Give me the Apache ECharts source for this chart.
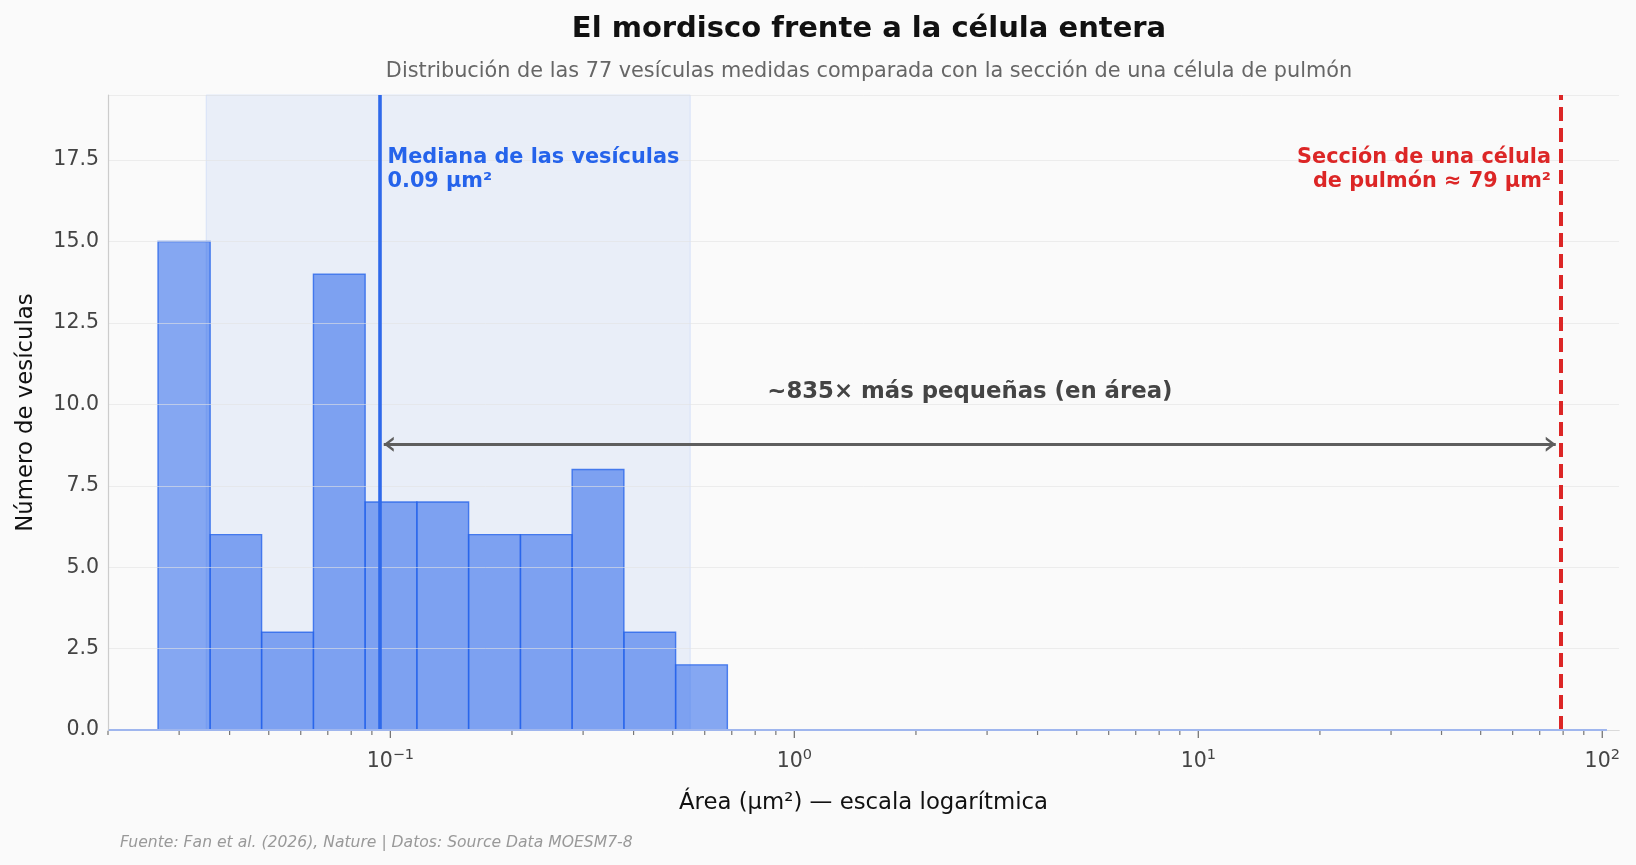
<!DOCTYPE html>
<html>
<head>
<meta charset="utf-8">
<script src="https://cdn.jsdelivr.net/npm/echarts@6/dist/echarts.min.js"></script>
<style>
  html, body {margin: 0; padding: 0; background: #fafafa;}
  #contain {width: 1636px; height: 865px;}
</style>
</head>
<body>
<div id="contain"></div>
<script>
// bin edges (µm², log-spaced) and counts
var binEdges = [0.0266, 0.0358, 0.0480, 0.0645, 0.0866, 0.1163, 0.1562, 0.2099, 0.2818, 0.3785, 0.5083, 0.6827];
var binCounts = [15, 6, 3, 14, 7, 7, 6, 6, 8, 3, 2];

var medianArea = 0.094;
var cellArea = 79;
var bandRange = [0.035, 0.5525];
var arrowEnds = [0.0963, 76.7];
var arrowY = 8.775;
var ratioLabelPos = [2.72, 10.37];
var labelY = 17.2;

var majorTicks = [0.1, 1, 10, 100];
var minorTicks = [0.02, 0.03, 0.04, 0.05, 0.06, 0.07, 0.08, 0.09,
    0.2, 0.3, 0.4, 0.5, 0.6, 0.7, 0.8, 0.9,
    2, 3, 4, 5, 6, 7, 8, 9,
    20, 30, 40, 50, 60, 70, 80, 90];

var FONT = 'DejaVu Sans';
var CHEVRON = 'path://M0,10 L5,0 L10,10 L8,10 L5,4 L2,10 Z';

var histData = [];
for (var i = 0; i < binCounts.length; i++) {
    histData.push([binEdges[i], binEdges[i + 1], binCounts[i]]);
}

var myChart = echarts.init(document.getElementById('contain'));

var option = {
    animation: false,
    backgroundColor: '#fafafa',
    textStyle: {fontFamily: FONT},
    title: [
        {
            text: 'El mordisco frente a la célula entera',
            left: 864, top: 10, textAlign: 'center',
            textStyle: {fontFamily: FONT, fontSize: 29, fontWeight: 'bold', color: '#111'}
        },
        {
            text: 'Distribución de las 77 vesículas medidas comparada con la sección de una célula de pulmón',
            left: 864, top: 56, textAlign: 'center',
            textStyle: {fontFamily: FONT, fontSize: 20.8, fontWeight: 'normal', color: '#666'}
        },
        {
            text: 'Fuente: Fan et al. (2026), Nature | Datos: Source Data MOESM7-8',
            left: 115, top: 830,
            textStyle: {fontFamily: FONT, fontSize: 15.6, fontStyle: 'italic', fontWeight: 'normal', color: '#999'}
        }
    ],
    grid: {left: 108, right: 17, top: 95, bottom: 135, containLabel: false},
    xAxis: {
        type: 'log',
        logBase: 10,
        min: 0.02,
        max: 110,
        name: 'Área (µm²) — escala logarítmica',
        nameLocation: 'middle',
        nameGap: 62,
        nameTextStyle: {fontFamily: FONT, fontSize: 22.8, color: '#111'},
        axisLine: {show: true, lineStyle: {color: '#cccccc', width: 1.2}},
        axisTick: {show: false},
        splitLine: {show: false},
        minorTick: {show: false},
        axisLabel: {
            margin: 18,
            showMinLabel: false,
            showMaxLabel: false,
            formatter: function (v) {
                var l = Math.log(v) / Math.LN10;
                var e = Math.round(l);
                if (Math.abs(l - e) > 1e-6) return '';
                return '{b|10}{s|' + (e < 0 ? '−' + (-e) : e) + '}';
            },
            rich: {
                b: {fontFamily: FONT, fontSize: 20.5, color: '#444', verticalAlign: 'bottom'},
                s: {fontFamily: FONT, fontSize: 14.5, color: '#444', verticalAlign: 'bottom', padding: [0, 0, 9, 0]}
            }
        }
    },
    yAxis: {
        type: 'value',
        min: 0,
        max: 19.5,
        interval: 2.5,
        z: 5,
        name: 'Número de vesículas',
        nameLocation: 'middle',
        nameGap: 70,
        nameTextStyle: {fontFamily: FONT, fontSize: 22.8, color: '#111'},
        axisLine: {show: true, lineStyle: {color: '#cccccc', width: 1.2}},
        axisTick: {show: false},
        axisLabel: {
            margin: 9,
            fontFamily: FONT, fontSize: 20.5, color: '#444',
            formatter: function (v) {
                if (v > 18) return '';
                return v.toFixed(1);
            }
        },
        splitLine: {show: true, lineStyle: {color: 'rgba(226,226,226,0.6)', width: 1}}
    },
    series: [
        {
            // shaded range
            name: 'rango',
            type: 'line',
            data: [],
            z: 1,
            markArea: {
                silent: true,
                precision: 6,
                itemStyle: {color: 'rgba(37,99,235,0.08)', borderColor: 'rgba(37,99,235,0.12)', borderWidth: 1},
                data: [[{xAxis: bandRange[0]}, {xAxis: bandRange[1]}]]
            }
        },
        {
            name: 'vesículas',
            type: 'custom',
            z: 2,
            clip: false,
            data: histData,
            encode: {x: [0, 1], y: 2},
            renderItem: function (params, api) {
                var p0 = api.coord([api.value(0), api.value(2)]);
                var p1 = api.coord([api.value(1), 0]);
                return {
                    type: 'rect',
                    shape: {x: p0[0], y: p0[1], width: p1[0] - p0[0], height: p1[1] - p0[1]},
                    style: {fill: 'rgba(37,99,235,0.55)', stroke: 'rgba(37,99,235,0.78)', lineWidth: 1.4}
                };
            }
        },
        {
            name: 'líneas',
            type: 'line',
            data: [],
            z: 6,
            markLine: {
                silent: true,
                precision: 6,
                symbol: 'none',
                label: {show: false},
                data: [
                    {xAxis: medianArea, lineStyle: {color: '#2f69ea', width: 3.6, type: 'solid'}},
                    {xAxis: cellArea, lineStyle: {color: '#dc2626', width: 4, type: [14, 7]}},
                    [{coord: [0.02, 0]}, {coord: [102.7, 0]}]
                ],
                lineStyle: {color: '#9fb6ee', width: 2, type: 'solid'}
            }
        },
        {
            name: 'flecha',
            type: 'line',
            data: [],
            z: 7,
            markLine: {
                silent: true,
                precision: 6,
                symbol: [CHEVRON, CHEVRON],
                symbolSize: [15, 10],
                symbolOffset: [[0, 5], [0, 5]],
                label: {show: false},
                lineStyle: {color: '#5e5e5e', width: 2.8, type: 'solid'},
                data: [[{coord: [arrowEnds[0], arrowY]}, {coord: [arrowEnds[1], arrowY]}]]
            },
            markPoint: {
                silent: true,
                precision: 6,
                symbol: 'circle',
                symbolSize: 0,
                data: [
                    {
                        coord: [medianArea, labelY],
                        label: {
                            show: true, position: 'right', distance: 8,
                            formatter: 'Mediana de las vesículas\n0.09 µm²',
                            fontFamily: FONT, fontSize: 20.8, fontWeight: 'bold', lineHeight: 24, color: '#2563eb'
                        }
                    },
                    {
                        coord: [cellArea, labelY],
                        label: {
                            show: true, position: 'left', distance: 10,
                            formatter: 'Sección de una célula\nde pulmón ≈ 79 µm²',
                            fontFamily: FONT, fontSize: 20.8, fontWeight: 'bold', lineHeight: 24, color: '#dc2626'
                        }
                    },
                    {
                        coord: ratioLabelPos,
                        label: {
                            show: true, position: 'inside',
                            formatter: '~835× más pequeñas (en área)',
                            fontFamily: FONT, fontSize: 22.8, fontWeight: 'bold', color: '#444'
                        }
                    }
                ]
            }
        },
        {
            name: 'ticks',
            type: 'scatter',
            clip: false,
            silent: true,
            z: 8,
            symbol: 'rect',
            symbolSize: [1.2, 4],
            symbolOffset: [0, 3],
            itemStyle: {color: '#555'},
            data: minorTicks.map(function (v) { return [v, 0]; })
        },
        {
            name: 'majorTicks',
            type: 'scatter',
            clip: false,
            silent: true,
            z: 8,
            symbol: 'rect',
            symbolSize: [1.3, 7],
            symbolOffset: [0, 4.5],
            itemStyle: {color: '#555'},
            data: majorTicks.map(function (v) { return [v, 0]; })
        }
    ]
};
myChart.setOption(option, true);
</script>
</body>
</html>
